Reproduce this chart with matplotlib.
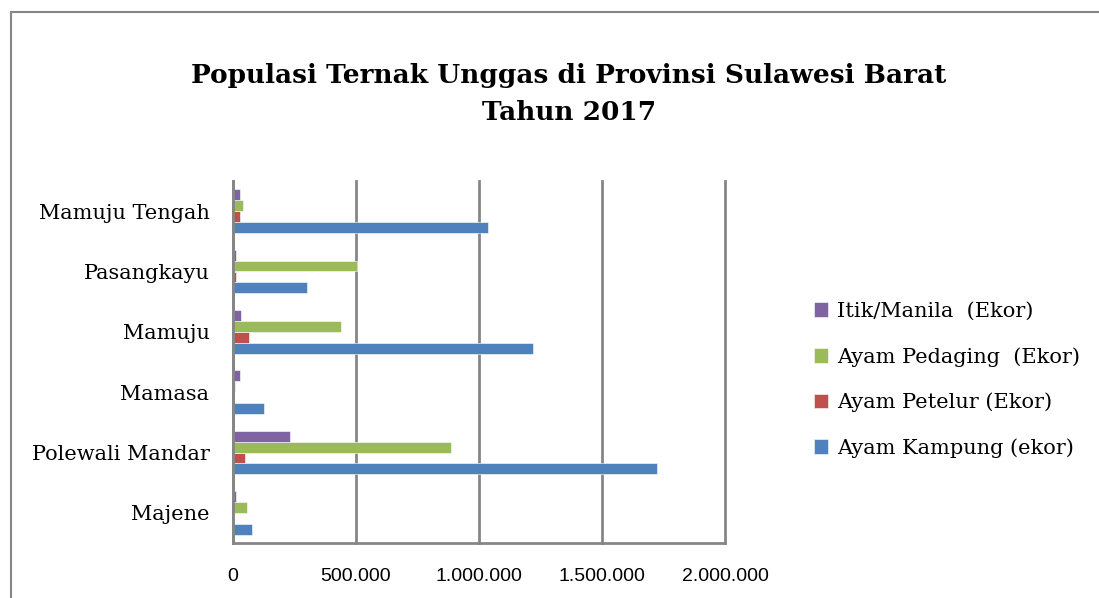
import numpy as np
import matplotlib.pyplot as plt
from matplotlib.patches import Rectangle
from matplotlib.ticker import FuncFormatter

kabupaten = ["Majene", "Polewali Mandar", "Mamasa", "Mamuju", "Pasangkayu", "Mamuju Tengah"]
ayam_kampung = [76000, 1724000, 128000, 1220000, 300000, 1038000]
ayam_petelur = [5000, 48000, 1500, 64000, 14000, 28000]
ayam_pedaging = [56000, 885000, 8000, 439000, 503000, 40000]
itik_manila = [14000, 233000, 30000, 34000, 12000, 27000]

series = [
    ("Ayam Kampung (ekor)", ayam_kampung, "#4F81BD"),
    ("Ayam Petelur (Ekor)", ayam_petelur, "#C0504D"),
    ("Ayam Pedaging  (Ekor)", ayam_pedaging, "#9BBB59"),
    ("Itik/Manila  (Ekor)", itik_manila, "#8064A2"),
]

serif = "DejaVu Serif"
fig = plt.figure(figsize=(10.99, 5.98), dpi=100)
ax = fig.add_axes([233 / 1099, 55 / 598, 492 / 1099, 362 / 598])

y = np.arange(len(kabupaten))
h = 0.182
bars = []
for i, (name, vals, col) in enumerate(series):
    b = ax.barh(y + (i - 1.5) * h, vals, height=h, color=col, label=name,
                edgecolor="white", linewidth=0.4)
    bars.append(b)

ax.set_xlim(0, 2000000)
ax.set_ylim(-0.5, len(kabupaten) - 0.5)
ax.set_xticks([0, 500000, 1000000, 1500000, 2000000])
ax.xaxis.set_major_formatter(FuncFormatter(lambda v, p: f"{int(v):,}".replace(",", ".")))
ax.set_yticks(y)
ax.set_yticklabels(kabupaten, fontfamily=serif, fontsize=15)
for lab in ax.get_xticklabels():
    lab.set_fontfamily("Liberation Sans")
    lab.set_fontsize(14)
ax.tick_params(axis="both", length=0)
ax.tick_params(axis="x", pad=18)
ax.tick_params(axis="y", pad=17)
ax.grid(axis="x", color="#868686", linewidth=2)
for gl in ax.get_xgridlines():
    gl.set_clip_on(False)
ax.set_axisbelow(True)
for s in ["top", "right"]:
    ax.spines[s].set_visible(False)
for s in ["left", "bottom"]:
    ax.spines[s].set_color("#868686")
    ax.spines[s].set_linewidth(2)

fig.text(569 / 1099, 1 - 75 / 598, "Populasi Ternak Unggas di Provinsi Sulawesi Barat",
         ha="center", va="center", fontfamily=serif, fontsize=19, fontweight="bold")
fig.text(569 / 1099, 1 - 113 / 598, "Tahun 2017",
         ha="center", va="center", fontfamily=serif, fontsize=19, fontweight="bold")

handles = bars[::-1]
leg = fig.legend(handles, [s[0] for s in series[::-1]], loc="center left",
                 bbox_to_anchor=(795 / 1099, 1 - 380 / 598), frameon=False,
                 prop={"family": serif, "size": 15}, handlelength=0.7, handleheight=0.7,
                 handletextpad=0.4, labelspacing=1.25)

fig.patches.append(Rectangle((11 / 1099, -0.1), 1.2, 1 - 12 / 598 + 0.1,
                             transform=fig.transFigure, fill=False,
                             edgecolor="#868686", linewidth=1.5))

fig.savefig("out.png", dpi=100)
